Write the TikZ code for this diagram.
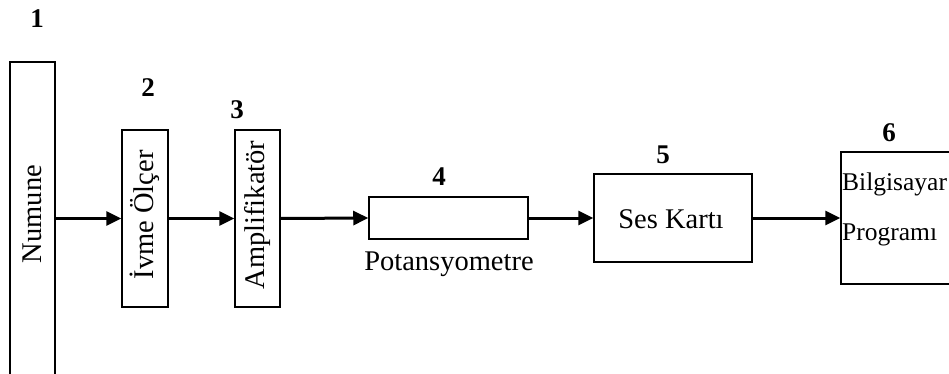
\documentclass[tikz,border=0pt]{standalone}
\usepackage{fontspec}
\setmainfont{Liberation Serif}
\usetikzlibrary{arrows.meta}
\begin{document}
\begin{tikzpicture}[x=1pt,y=-1pt,
  box/.style={draw=black,line width=1.5pt,rectangle,inner sep=0pt},
  txt/.style={inner sep=0pt,font=\fontsize{28.5}{32}\selectfont},
  edgetxt/.style={inner sep=0pt,font=\fontsize{25.5}{30}\selectfont},
  num/.style={inner sep=0pt,font=\fontsize{27}{30}\selectfont\bfseries},
  arr/.style={line width=3pt,-{Triangle[length=15pt,width=14pt]}}]
\useasboundingbox (0,0) rectangle (949,374);
% boxes
\node[box,minimum width=45pt,minimum height=330pt] (numune) at (32.5,227) {};
\node[box,minimum width=46pt,minimum height=177pt] (ivme) at (145,218.5) {};
\node[box,minimum width=45pt,minimum height=177pt] (amp) at (257.5,218.5) {};
\node[box,minimum width=159pt,minimum height=42pt] (pot) at (448.5,218) {};
\node[box,minimum width=158pt,minimum height=88pt] (ses) at (673,218) {};
\node[box,minimum width=160pt,minimum height=132pt] (bilg) at (921,218) {};
% texts
\node[txt,rotate=90] (tnum) at (32.5,214) {Numune};
\node[txt,rotate=90] (tivme) at (145,215) {İvme Ölçer};
\node[txt,rotate=90] (tamp) at (257.5,215) {Amplifikatör};
\node[txt,anchor=base] (tpot) at (449,270) {Potansyometre};
\node[txt,anchor=base] (tses) at (671,228) {Ses Kartı};
\node[edgetxt,anchor=base west] (tb1) at (842,190) {Bilgisayar};
\node[edgetxt,anchor=base west] (tb2) at (842,240) {Programı};
% numbers
\node[num] (n1) at (37,19) {1};
\node[num] (n2) at (148,88) {2};
\node[num] (n3) at (237,110) {3};
\node[num] (n4) at (439,177) {4};
\node[num] (n5) at (663,155) {5};
\node[num] (n6) at (889,133) {6};
% arrows
\draw[arr] (numune.east |- ivme.west) -- (ivme.west);
\draw[arr] (ivme.east) -- (amp.west);
\draw[arr] (amp.east) -- (pot.west);
\draw[arr] (pot.east) -- (ses.west);
\draw[arr] (ses.east) -- (bilg.west);
\end{tikzpicture}
\end{document}
